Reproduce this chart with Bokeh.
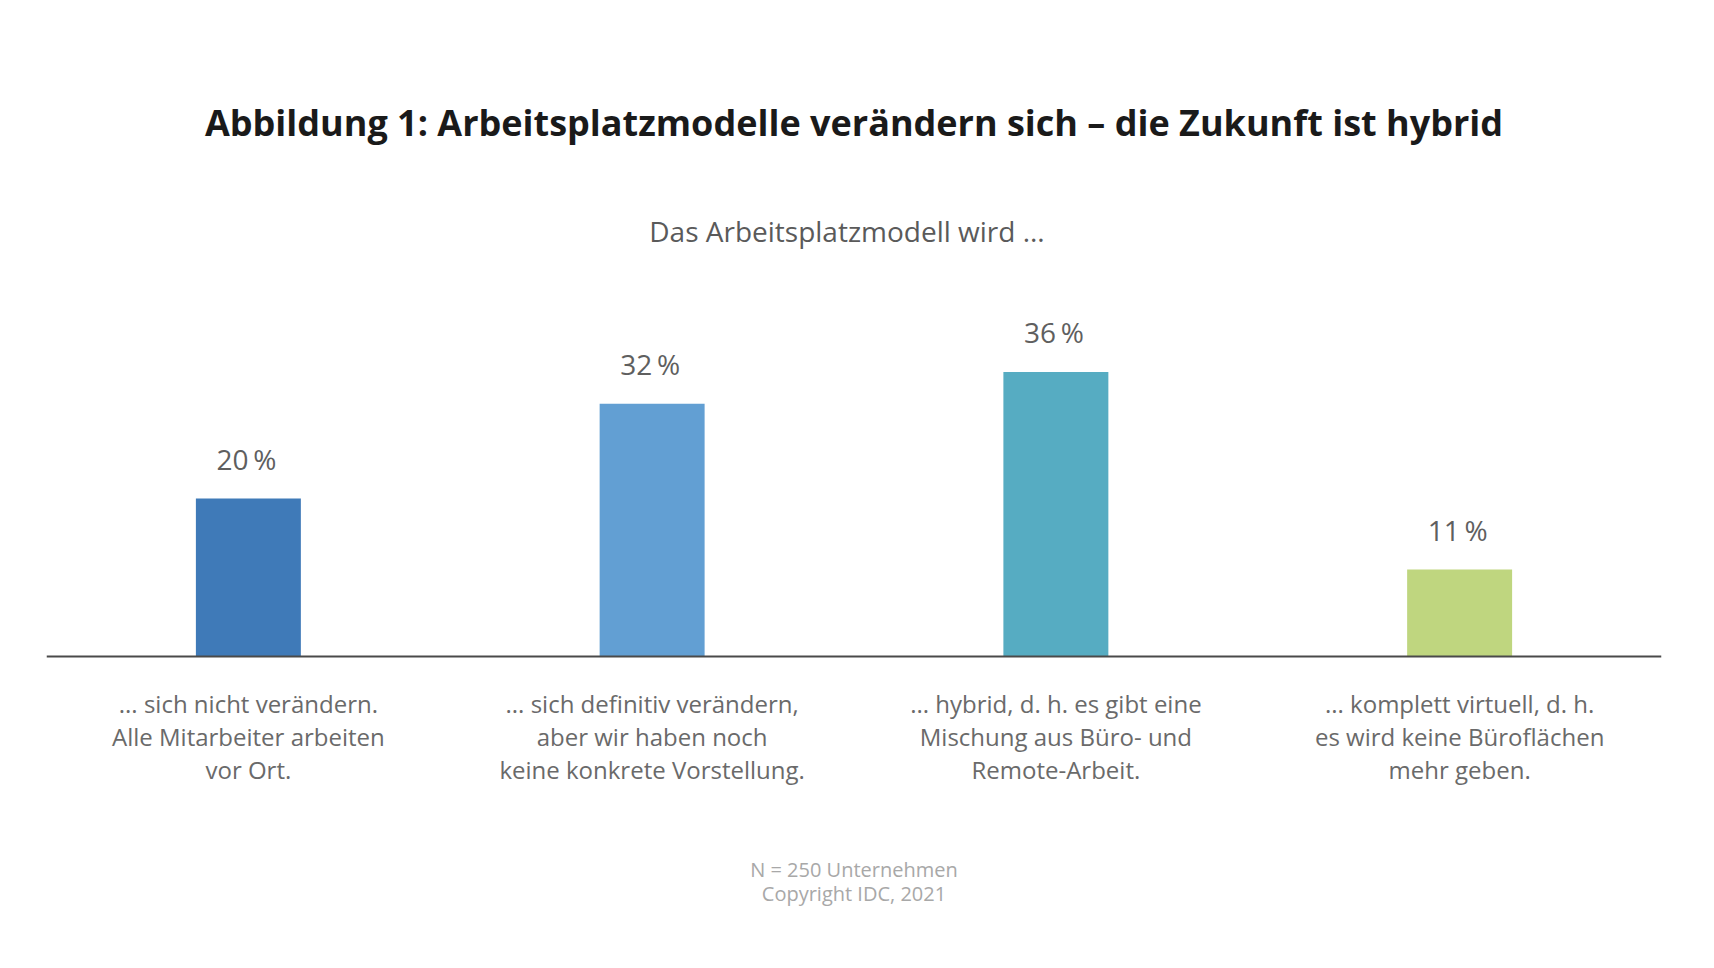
from bokeh.plotting import figure
from bokeh.models import FactorRange, Range1d, Span, ColumnDataSource, Label
from bokeh.core.properties import value
from bokeh.embed import file_html
from bokeh.resources import INLINE

# ---- data ----
categories = ["nicht", "definitiv", "hybrid", "virtuell"]
category_labels = [
    "... sich nicht verändern.\nAlle Mitarbeiter arbeiten\nvor Ort.",
    "... sich definitiv verändern,\naber wir haben noch\nkeine konkrete Vorstellung.",
    "... hybrid, d. h. es gibt eine\nMischung aus Büro- und\nRemote-Arbeit.",
    "... komplett virtuell, d. h.\nes wird keine Büroflächen\nmehr geben.",
]
values = [20, 32, 36, 11]
value_labels = ["20\u2009%", "32\u2009%", "36\u2009%", "11\u2009%"]
colors = ["#3F7AB8", "#629FD3", "#56ACC2", "#BFD67F"]

title_text = "Abbildung 1: Arbeitsplatzmodelle verändern sich – die Zukunft ist hybrid"
subtitle_text = "Das Arbeitsplatzmodell wird ..."
footer_text = "N = 250 Unternehmen\nCopyright IDC, 2021"

# ---- layout ----
W, H = 1698, 952
BASE = 656          # baseline, px from top of canvas
PPU = 7.9           # px per percent
def yd(px_from_top):
    return (BASE - px_from_top) / PPU

p = figure(
    width=W, height=H,
    x_range=FactorRange(*categories, range_padding=0),
    y_range=Range1d(-(H - BASE) / PPU, BASE / PPU),
    output_backend="svg", toolbar_location=None,
    min_border_left=46, min_border_right=37, min_border_top=0, min_border_bottom=0,
)
p.xaxis.visible = False
p.yaxis.visible = False
p.xgrid.visible = False
p.ygrid.visible = False
p.outline_line_color = None
p.background_fill_color = "white"
p.border_fill_color = "white"

src = ColumnDataSource(dict(
    cat=categories, val=values, col=colors, vlab=value_labels,
    vy=[v + 40 / PPU for v in values],
    clab=category_labels, cy=[yd(736)] * len(categories),
))

p.vbar(x="cat", top="val", bottom=0, width=0.26, fill_color="col", line_color=None, source=src)

p.add_layout(Span(location=0, dimension="width", line_color="#4a4a4a", line_width=2))

p.text(x="cat", y="vy", text="vlab", source=src, text_align="center", text_baseline="middle",
       text_font=value("Open Sans"), text_font_size="28px", text_color="#5f5f5f", x_offset=-2)

p.text(x="cat", y="cy", text="clab", source=src, text_align="center", text_baseline="middle",
       text_font=value("Open Sans"), text_font_size="24px", text_color="#6a6a6a",
       text_line_height=1.0)

p.add_layout(Label(x=2.0, y=yd(122), text=title_text, text_align="center", text_baseline="middle",
                   text_font="Open Sans", text_font_style="bold", text_font_size="36px",
                   text_color="#1a1a1a"))
p.add_layout(Label(x=2.0, y=yd(230), x_offset=-7, text=subtitle_text, text_align="center",
                   text_baseline="middle",
                   text_font="Open Sans", text_font_size="28px", text_color="#5a5a5a"))
p.add_layout(Label(x=2.0, y=yd(881), text=footer_text, text_align="center", text_baseline="middle",
                   text_font="Open Sans", text_font_size="20px", text_color="#a8a8a8",
                   text_line_height=0.9))

open("out.html", "w").write(file_html(p, INLINE))
